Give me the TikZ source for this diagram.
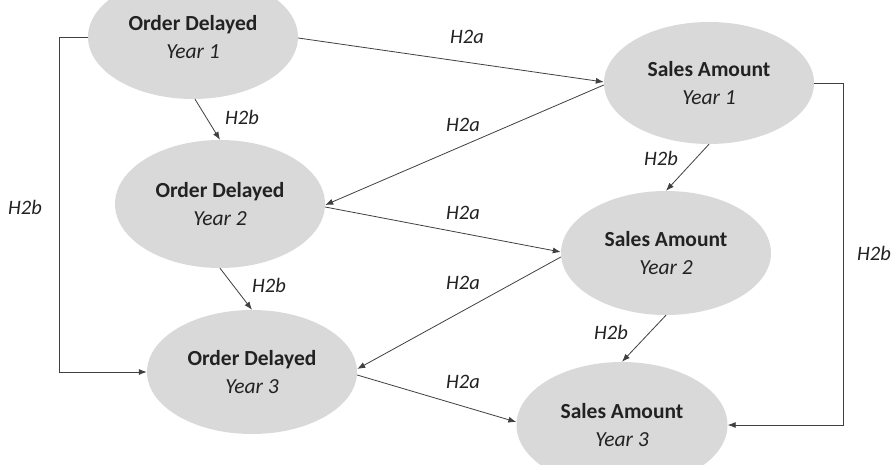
\documentclass[tikz,border=0pt]{standalone}
\usepackage{fontspec}
\setmainfont{Carlito}
\usetikzlibrary{shapes.geometric,arrows.meta}
\definecolor{ellfill}{HTML}{D9D9D9}
\definecolor{linecol}{HTML}{404040}
\definecolor{txtcol}{HTML}{222222}
\tikzset{
  ell/.style={ellipse, fill=ellfill, draw=none, minimum width=210pt, minimum height=124pt, inner sep=0pt,
    align=center, text=txtcol, font=\fontsize{21.5}{28}\selectfont},
  arr/.style={draw=linecol, line width=0.8pt, -{Latex[length=8pt,width=6pt]}},
  lbl/.style={text=txtcol, font=\fontsize{20.5}{24}\selectfont\itshape, inner sep=0pt}
}
\begin{document}
\begin{tikzpicture}[x=1pt,y=-1pt]
\useasboundingbox (0,0) rectangle (891,465);
\clip (0,0) rectangle (891,465);
\fill[white] (0,0) rectangle (891,465);
\node[ell] (od1) at (193,37) {\textbf{Order Delayed}\\\textit{Year 1}};
\node[ell, minimum height=128pt] (od2) at (220,204) {\textbf{Order Delayed}\\\textit{Year 2}};
\node[ell] (od3) at (252,372) {\textbf{Order Delayed}\\\textit{Year 3}};
\node[ell, minimum height=122pt] (sa1) at (709,83) {\textbf{Sales Amount}\\\textit{Year 1}};
\node[ell] (sa2) at (666,253) {\textbf{Sales Amount}\\\textit{Year 2}};
\node[ell, minimum width=211pt, minimum height=126pt] (sa3) at (622,425) {\textbf{Sales Amount}\\\textit{Year 3}};

\draw[arr] ([yshift=-1pt]od1.east) -- ([yshift=1pt]sa1.west);
\draw[arr] ([yshift=-2pt]sa1.west) -- ([yshift=-1pt]od2.east);
\draw[arr] ([yshift=-3pt]od2.east) -- ([yshift=1pt]sa2.west);
\draw[arr] ([yshift=-4pt]sa2.west) -- ([yshift=3pt]od3.east);
\draw[arr] ([yshift=-3pt]od3.east) -- ([yshift=3pt]sa3.west);

\draw[arr] ([xshift=2pt]od1.south) -- (od2.north);
\draw[arr] (od2.south) -- (od3.north);
\draw[arr] (sa1.south) -- (sa2.north);
\draw[arr] (sa2.south) -- (sa3.north);

\draw[arr] (od1.west) -- ++(-28,0) |- (od3.west);
\draw[arr] (sa1.east) -- ++(29,0) |- (sa3.east);

\node[lbl] (l1) at (467,37) {H2a};
\node[lbl] (l2) at (463,125) {H2a};
\node[lbl] (l3) at (463,213) {H2a};
\node[lbl] (l4) at (463,283) {H2a};
\node[lbl] (l5) at (463,382) {H2a};
\node[lbl] (l6) at (242,117) {H2b};
\node[lbl] (l7) at (269,285) {H2b};
\node[lbl] (l8) at (661,158) {H2b};
\node[lbl] (l9) at (611,332) {H2b};
\node[lbl] (l10) at (25,207) {H2b};
\node[lbl] (l11) at (874,253) {H2b};
\end{tikzpicture}
\end{document}
